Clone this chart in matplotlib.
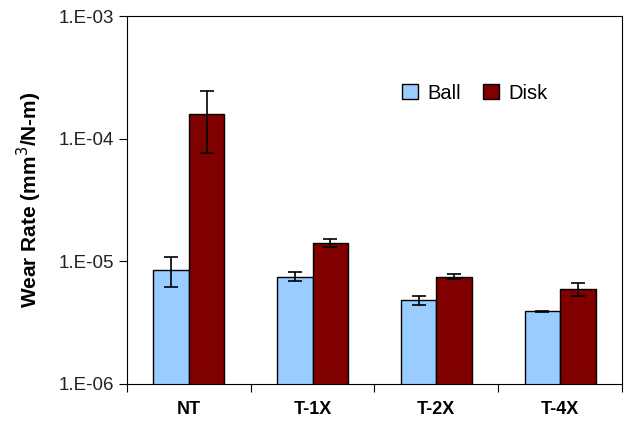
import matplotlib.pyplot as plt
import matplotlib.ticker as ticker
import numpy as np

plt.rcParams['font.family'] = ['Liberation Sans', 'DejaVu Sans']

groups = ['NT', 'T-1X', 'T-2X', 'T-4X']
ball = [8.5e-6, 7.5e-6, 4.8e-6, 3.9e-6]
ball_err = [2.3e-6, 0.65e-6, 0.38e-6, 0.05e-6]
disk = [1.6e-4, 1.41e-5, 7.5e-6, 5.95e-6]
disk_err = [8.4e-5, 1.0e-6, 0.35e-6, 0.75e-6]

fig = plt.figure(figsize=(6.32, 4.26), dpi=100)
ax = fig.add_axes([0.201, 0.0986, 0.783, 0.8638])

x = np.arange(len(groups))
w = 0.287
ax.bar(x - w / 2, ball, w, color='#99CCFF', edgecolor='black', linewidth=1, label='Ball',
       yerr=ball_err, capsize=4.7, error_kw=dict(elinewidth=1.2, capthick=1.2, ecolor='black'))
ax.bar(x + w / 2, disk, w, color='#800000', edgecolor='black', linewidth=1, label='Disk',
       yerr=disk_err, capsize=4.7, error_kw=dict(elinewidth=1.2, capthick=1.2, ecolor='black'))

ax.set_yscale('log')
ax.set_ylim(1e-6, 1e-3)
ax.set_xlim(-0.5, 3.5)
ax.yaxis.set_major_locator(ticker.LogLocator(base=10, numticks=10))
ax.yaxis.set_minor_locator(ticker.NullLocator())
ax.yaxis.set_major_formatter(ticker.FuncFormatter(lambda v, p: '1.E-%02d' % round(-np.log10(v))))
ax.tick_params(axis='y', labelsize=13.5, length=6, direction='out', labelcolor='#222222')

ax.set_xticks(np.arange(-0.5, 4, 1))
ax.set_xticklabels([])
ax.set_xticks(x, minor=True)
ax.set_xticklabels(groups, minor=True, fontweight='bold', fontsize=13)
ax.tick_params(axis='x', which='major', length=6, direction='out')
ax.tick_params(axis='x', which='minor', length=0, pad=12)

ax.set_ylabel('Wear Rate (mm$^3$/N-m)', fontsize=15, fontweight='bold', labelpad=10)

ax.legend(loc='upper left', bbox_to_anchor=(0.52, 0.865), ncol=2, frameon=False,
          fontsize=14.5, handlelength=0.75, handleheight=0.75, columnspacing=1.1, handletextpad=0.5)

fig.savefig('out.png', dpi=100)
